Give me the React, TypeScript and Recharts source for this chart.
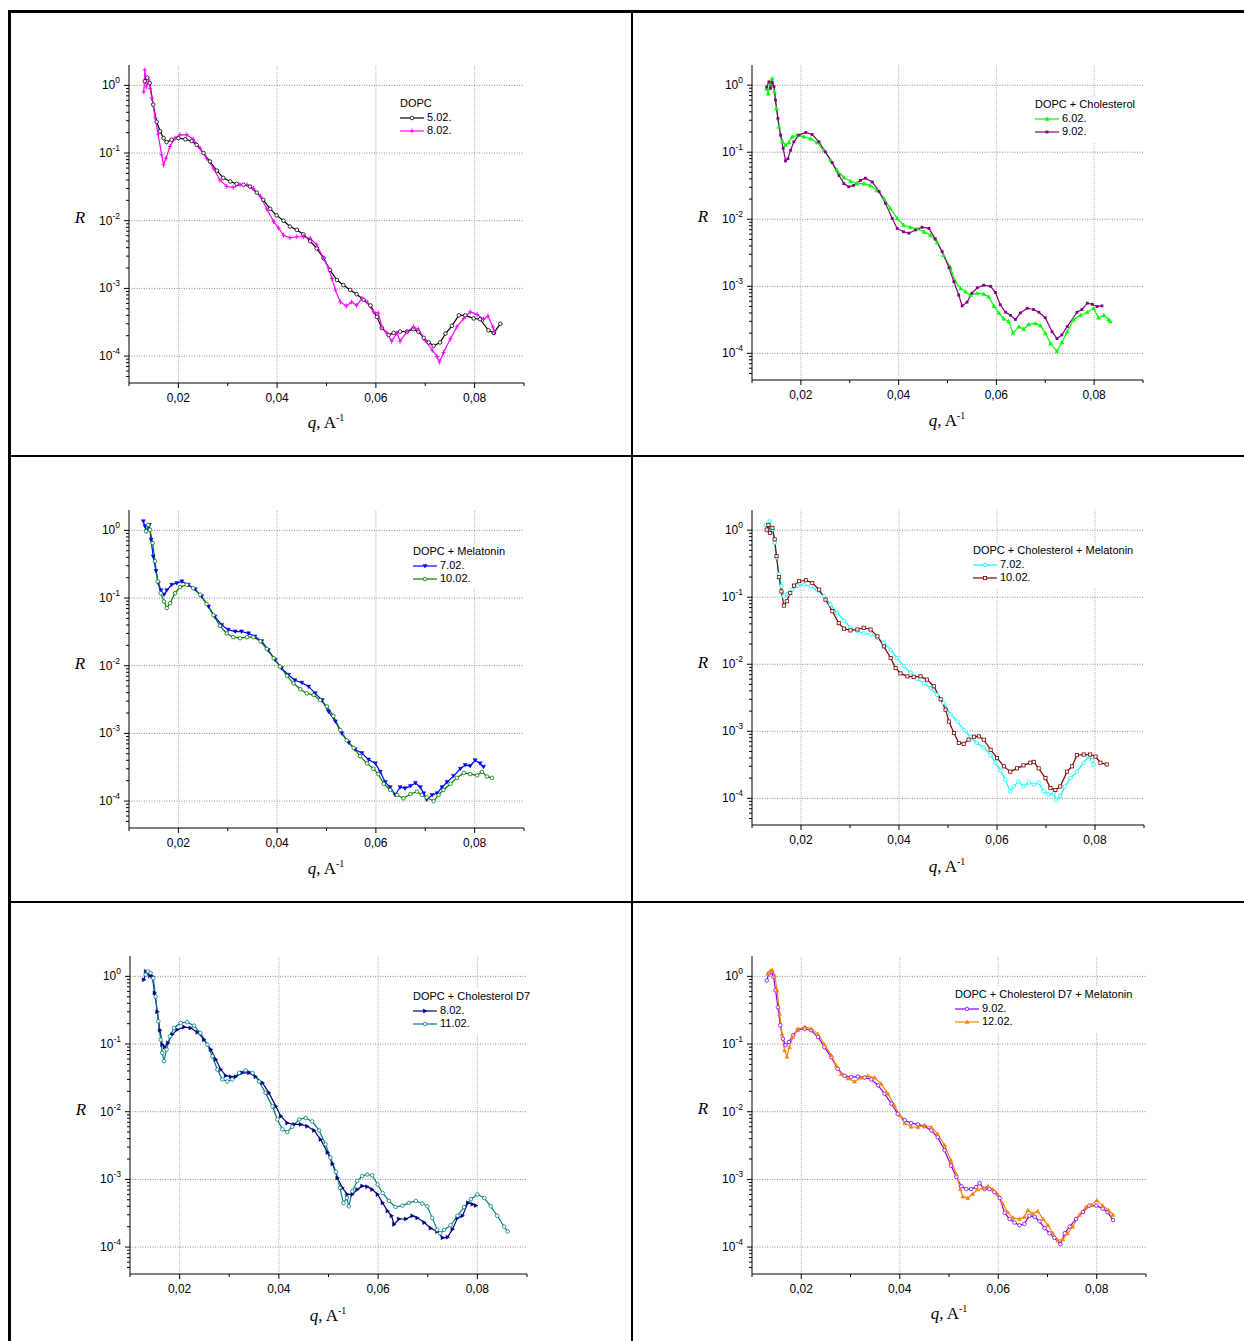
import React from "react"
import { Line, LineChart, ReferenceLine, XAxis, YAxis } from "recharts"

// q (1/A) vs reflectivity R
type Pair = [number, number]

const dopc502: Pair[] = [
  [0.0132, 1.15], [0.0137, 1.3], [0.0142, 1.08], [0.0149, 0.52], [0.0156, 0.29], [0.0163, 0.21], [0.017, 0.166],
  [0.0176, 0.145], [0.0186, 0.157], [0.02, 0.166], [0.0214, 0.16], [0.0227, 0.15], [0.0237, 0.132], [0.0251, 0.1],
  [0.0264, 0.075], [0.0278, 0.055], [0.0291, 0.043], [0.0305, 0.038], [0.0318, 0.035], [0.0332, 0.034], [0.0345, 0.032],
  [0.0359, 0.026], [0.0372, 0.0204], [0.0386, 0.015], [0.0399, 0.012], [0.0413, 0.01], [0.0426, 0.0082], [0.044, 0.0073],
  [0.0453, 0.0063], [0.0467, 0.005], [0.048, 0.0039], [0.0494, 0.0028], [0.0507, 0.00187], [0.0521, 0.00133],
  [0.0534, 0.00112], [0.0548, 0.00095], [0.0561, 0.00082], [0.0575, 0.00068], [0.0589, 0.00056], [0.0602, 0.00038],
  [0.0612, 0.00026], [0.0626, 0.000204], [0.0636, 0.00022], [0.0649, 0.00023], [0.0663, 0.00023], [0.0676, 0.00025],
  [0.0686, 0.00023], [0.0697, 0.000186], [0.0707, 0.000159], [0.0717, 0.000142], [0.073, 0.000159], [0.0741, 0.000215],
  [0.0754, 0.00028], [0.0768, 0.0004], [0.0781, 0.0004], [0.0798, 0.00036], [0.0811, 0.00035], [0.0828, 0.00024],
  [0.0839, 0.00022], [0.0852, 0.0003],
]

const dopc802: Pair[] = [
  [0.013, 0.8], [0.0132, 1.7], [0.0135, 0.95], [0.014, 1.2], [0.0143, 0.9], [0.0146, 0.65], [0.0153, 0.33], [0.0159, 0.19],
  [0.0166, 0.094], [0.017, 0.067], [0.0175, 0.084], [0.0183, 0.125], [0.0193, 0.166], [0.0203, 0.186], [0.0217, 0.186],
  [0.023, 0.16], [0.0244, 0.118], [0.0257, 0.084], [0.0271, 0.06], [0.0284, 0.04], [0.0298, 0.032], [0.0311, 0.031],
  [0.0325, 0.034], [0.0339, 0.034], [0.0352, 0.03], [0.0366, 0.023], [0.0379, 0.015], [0.0393, 0.0097], [0.0403, 0.0078],
  [0.0413, 0.0061], [0.0426, 0.0056], [0.044, 0.0058], [0.0453, 0.0058], [0.0467, 0.0055], [0.048, 0.0044],
  [0.0494, 0.0028], [0.0504, 0.002], [0.0511, 0.0014], [0.0518, 0.00095], [0.0528, 0.00063], [0.054, 0.00055],
  [0.0551, 0.00063], [0.0561, 0.00056], [0.0572, 0.00071], [0.0582, 0.00063], [0.0595, 0.00045], [0.0605, 0.00043],
  [0.0612, 0.00027], [0.0622, 0.00022], [0.0632, 0.000166], [0.0643, 0.00022], [0.0649, 0.000166], [0.0663, 0.00023],
  [0.0676, 0.00027], [0.0686, 0.00025], [0.07, 0.00017], [0.0714, 0.000123], [0.0724, 0.000098], [0.0729, 0.000082],
  [0.0737, 0.000113], [0.0751, 0.00018], [0.0764, 0.00027], [0.0778, 0.00036], [0.0791, 0.00045], [0.0805, 0.00041],
  [0.0818, 0.00035], [0.0827, 0.00039], [0.0837, 0.00027], [0.084, 0.00023],
]

const chol602: Pair[] = [
  [0.013, 0.89], [0.01333, 0.75], [0.01366, 1.06], [0.01414, 1.26], [0.01461, 0.8], [0.015, 0.45], [0.0155, 0.24],
  [0.01618, 0.146], [0.01686, 0.128], [0.01755, 0.14], [0.01823, 0.17], [0.01925, 0.18], [0.0206, 0.17], [0.022, 0.16],
  [0.0233, 0.14], [0.0247, 0.107], [0.0261, 0.076], [0.0274, 0.054], [0.0288, 0.042], [0.0302, 0.037], [0.0315, 0.034],
  [0.0329, 0.034], [0.0342, 0.032], [0.0356, 0.027], [0.037, 0.0204], [0.0383, 0.0145], [0.0397, 0.0103], [0.041, 0.0082],
  [0.0424, 0.0076], [0.0438, 0.0072], [0.0452, 0.0065], [0.0465, 0.0058], [0.0479, 0.0045], [0.0492, 0.0029],
  [0.0506, 0.0019], [0.0516, 0.00117], [0.0527, 0.00093], [0.0537, 0.00083], [0.0547, 0.00074], [0.0561, 0.00079],
  [0.0574, 0.00077], [0.0584, 0.0007], [0.0595, 0.00051], [0.0605, 0.0004], [0.0615, 0.00033], [0.0625, 0.0003],
  [0.0634, 0.0002], [0.0646, 0.00025], [0.0656, 0.00023], [0.0666, 0.00027], [0.068, 0.00028], [0.069, 0.00026],
  [0.07, 0.0002], [0.0711, 0.00014], [0.0724, 0.000108], [0.0734, 0.000146], [0.0745, 0.00021], [0.0758, 0.00032],
  [0.0772, 0.00037], [0.0786, 0.00041], [0.0799, 0.00047], [0.0809, 0.00034], [0.082, 0.00037], [0.083, 0.00032],
  [0.0833, 0.0003],
]

const chol902: Pair[] = [
  [0.013, 0.94], [0.01346, 1.12], [0.0138, 0.9], [0.01414, 1.1], [0.0145, 0.95], [0.0148, 0.6], [0.0153, 0.32],
  [0.01584, 0.18], [0.01639, 0.114], [0.01686, 0.074], [0.01734, 0.08], [0.01789, 0.107], [0.01857, 0.143], [0.0196, 0.18],
  [0.021, 0.197], [0.0223, 0.184], [0.0237, 0.143], [0.025, 0.101], [0.0264, 0.07], [0.0278, 0.045], [0.0288, 0.034],
  [0.0298, 0.0305], [0.0308, 0.032], [0.0322, 0.038], [0.0332, 0.041], [0.0346, 0.036], [0.036, 0.026], [0.0373, 0.0173],
  [0.0387, 0.0103], [0.0397, 0.0073], [0.041, 0.0065], [0.0421, 0.0062], [0.0434, 0.0069], [0.0448, 0.0076],
  [0.0462, 0.0073], [0.0475, 0.0051], [0.0489, 0.0033], [0.0503, 0.0019], [0.0513, 0.00117], [0.0523, 0.00074],
  [0.053, 0.00051], [0.054, 0.00058], [0.055, 0.00079], [0.0561, 0.00095], [0.0574, 0.00104], [0.0588, 0.001],
  [0.0598, 0.00081], [0.0608, 0.00053], [0.0619, 0.00041], [0.0629, 0.00037], [0.0639, 0.00032], [0.0649, 0.0004],
  [0.0663, 0.00047], [0.0676, 0.00045], [0.0687, 0.00041], [0.07, 0.00034], [0.0714, 0.00021], [0.0724, 0.000166],
  [0.0734, 0.000188], [0.0745, 0.00025], [0.0765, 0.00041], [0.0775, 0.00045], [0.0786, 0.00056], [0.0796, 0.00054],
  [0.0806, 0.0005], [0.0816, 0.00051],
]

const mel702: Pair[] = [
  [0.0129, 1.36], [0.01324, 1.15], [0.01358, 0.97], [0.01412, 1.2], [0.01446, 0.73], [0.0149, 0.41], [0.01547, 0.25],
  [0.01595, 0.166], [0.01649, 0.13], [0.0171, 0.112], [0.01764, 0.13], [0.01865, 0.157], [0.01966, 0.166], [0.0207, 0.176],
  [0.022, 0.157], [0.0234, 0.135], [0.0247, 0.106], [0.0261, 0.075], [0.0274, 0.053], [0.0288, 0.04], [0.0301, 0.034],
  [0.0315, 0.032], [0.0328, 0.032], [0.0342, 0.03], [0.0355, 0.027], [0.0369, 0.023], [0.0382, 0.017], [0.0396, 0.0122],
  [0.0409, 0.0092], [0.0423, 0.0073], [0.0436, 0.0061], [0.045, 0.0056], [0.0464, 0.0049], [0.0477, 0.0039],
  [0.0491, 0.0031], [0.0504, 0.0021], [0.0518, 0.0015], [0.0531, 0.001], [0.0545, 0.00073], [0.0558, 0.00058],
  [0.0572, 0.00051], [0.0585, 0.00041], [0.0599, 0.00036], [0.0609, 0.00027], [0.0619, 0.00019], [0.0629, 0.00016],
  [0.0639, 0.000123], [0.0649, 0.00016], [0.0659, 0.000154], [0.067, 0.000166], [0.068, 0.000185], [0.069, 0.00016],
  [0.0697, 0.00013], [0.0703, 0.000105], [0.0714, 0.000123], [0.0724, 0.00013], [0.0734, 0.00016], [0.0744, 0.00019],
  [0.0757, 0.000234], [0.0771, 0.0003], [0.0781, 0.00034], [0.0791, 0.00033], [0.0801, 0.0004], [0.0811, 0.00036],
  [0.0818, 0.00032],
]

const mel1002: Pair[] = [
  [0.01345, 0.97], [0.0139, 1.2], [0.01426, 1.02], [0.0148, 0.65], [0.01527, 0.35], [0.01581, 0.176], [0.01642, 0.118],
  [0.0171, 0.089], [0.01764, 0.071], [0.01831, 0.084], [0.01932, 0.118], [0.02034, 0.145], [0.0217, 0.157], [0.023, 0.14],
  [0.0244, 0.112], [0.0257, 0.082], [0.0271, 0.056], [0.0284, 0.039], [0.0298, 0.03], [0.0311, 0.0264], [0.0325, 0.0255],
  [0.0339, 0.0264], [0.0352, 0.0264], [0.0366, 0.023], [0.0379, 0.0177], [0.0393, 0.0129], [0.0406, 0.0097],
  [0.042, 0.0071], [0.0433, 0.0055], [0.0447, 0.0045], [0.046, 0.0039], [0.0474, 0.0037], [0.0487, 0.0031],
  [0.0501, 0.0025], [0.0514, 0.0018], [0.0528, 0.00112], [0.0541, 0.00079], [0.0555, 0.00061], [0.0568, 0.00046],
  [0.0582, 0.00036], [0.0595, 0.0003], [0.0605, 0.00025], [0.0616, 0.00018], [0.0629, 0.000146], [0.0643, 0.000123],
  [0.0656, 0.00011], [0.067, 0.000127], [0.0683, 0.000138], [0.0693, 0.000123], [0.0703, 0.000113], [0.0717, 0.0001],
  [0.0727, 0.000123], [0.0737, 0.000146], [0.0751, 0.00018], [0.0764, 0.00022], [0.0778, 0.00026], [0.0791, 0.00025],
  [0.0805, 0.00024], [0.0815, 0.00027], [0.0825, 0.00023], [0.0835, 0.00022],
]

const cholMel702: Pair[] = [
  [0.0128, 1.2], [0.01327, 0.97], [0.0136, 1.36], [0.01416, 1.02], [0.01463, 0.65], [0.015, 0.39], [0.0155, 0.22],
  [0.016, 0.146], [0.0165, 0.104], [0.0172, 0.11], [0.0182, 0.13], [0.0193, 0.149], [0.0206, 0.154], [0.022, 0.146],
  [0.0233, 0.127], [0.0247, 0.104], [0.026, 0.078], [0.0274, 0.058], [0.0288, 0.045], [0.0301, 0.035], [0.0315, 0.031],
  [0.0328, 0.029], [0.0342, 0.028], [0.0356, 0.025], [0.0369, 0.021], [0.0383, 0.0164], [0.0396, 0.0124], [0.041, 0.0093],
  [0.0424, 0.0075], [0.0437, 0.006], [0.0451, 0.0052], [0.0465, 0.0044], [0.0478, 0.0035], [0.0491, 0.00265],
  [0.0505, 0.0018], [0.0519, 0.0014], [0.0532, 0.00105], [0.0546, 0.00083], [0.0559, 0.00067], [0.0573, 0.00057],
  [0.0587, 0.00044], [0.0597, 0.00034], [0.0607, 0.00026], [0.0617, 0.00019], [0.0627, 0.000127], [0.0634, 0.00015],
  [0.0644, 0.000178], [0.0654, 0.00015], [0.0665, 0.000172], [0.0675, 0.00016], [0.0685, 0.000172], [0.0695, 0.000127],
  [0.0705, 0.000114], [0.0716, 0.00012], [0.0721, 0.000094], [0.0729, 0.000108], [0.0739, 0.00015], [0.075, 0.0002],
  [0.0763, 0.00025], [0.0777, 0.00034], [0.0787, 0.00042], [0.0794, 0.00037], [0.0797, 0.00032],
]

const cholMel1002: Pair[] = [
  [0.013, 1.02], [0.01334, 1.2], [0.01368, 0.91], [0.01416, 1.08], [0.01463, 0.73], [0.015, 0.41], [0.0155, 0.2],
  [0.016, 0.122], [0.0165, 0.075], [0.0171, 0.087], [0.0178, 0.116], [0.0186, 0.149], [0.0196, 0.173], [0.021, 0.179],
  [0.0223, 0.163], [0.0237, 0.13], [0.025, 0.092], [0.0264, 0.062], [0.0277, 0.041], [0.0288, 0.034], [0.0301, 0.032],
  [0.0315, 0.033], [0.0328, 0.035], [0.0342, 0.033], [0.0356, 0.026], [0.0369, 0.0185], [0.0383, 0.0124], [0.0393, 0.0088],
  [0.0403, 0.0073], [0.0417, 0.0066], [0.043, 0.0065], [0.0444, 0.0066], [0.0457, 0.0059], [0.0471, 0.0047],
  [0.0485, 0.003], [0.0495, 0.0021], [0.0502, 0.0014], [0.0512, 0.00094], [0.0522, 0.00067], [0.0532, 0.00065],
  [0.0542, 0.00075], [0.0553, 0.00083], [0.0563, 0.00084], [0.0573, 0.00075], [0.0587, 0.00053], [0.06, 0.0004],
  [0.0614, 0.0003], [0.0627, 0.00025], [0.0641, 0.00028], [0.0654, 0.00031], [0.0668, 0.00034], [0.0675, 0.00035],
  [0.0685, 0.00028], [0.0699, 0.0002], [0.0709, 0.000142], [0.0719, 0.000133], [0.0729, 0.00015], [0.0743, 0.00025],
  [0.0753, 0.0003], [0.0763, 0.00044], [0.0777, 0.00045], [0.079, 0.00045], [0.0801, 0.00042], [0.0811, 0.00034],
  [0.0824, 0.00032],
]

const d7802: Pair[] = [
  [0.0128, 0.89], [0.0132, 1.18], [0.01362, 1.12], [0.01402, 1.02], [0.01449, 1.0], [0.01496, 0.57], [0.0155, 0.3],
  [0.01603, 0.16], [0.0165, 0.098], [0.017, 0.09], [0.01765, 0.104], [0.0185, 0.138], [0.0195, 0.163], [0.0209, 0.178],
  [0.0222, 0.173], [0.0236, 0.15], [0.0249, 0.116], [0.0263, 0.083], [0.0273, 0.059], [0.0283, 0.042], [0.0293, 0.034],
  [0.0303, 0.033], [0.0313, 0.033], [0.0326, 0.0375], [0.034, 0.0375], [0.0353, 0.033], [0.0367, 0.0267], [0.038, 0.019],
  [0.0394, 0.012], [0.0404, 0.0086], [0.0417, 0.0068], [0.0431, 0.0065], [0.0444, 0.0065], [0.0457, 0.0061],
  [0.0471, 0.0053], [0.0484, 0.0039], [0.0498, 0.0025], [0.0508, 0.0017], [0.0518, 0.00105], [0.0528, 0.00075],
  [0.0538, 0.0006], [0.0548, 0.0006], [0.0558, 0.00071], [0.0568, 0.0008], [0.0578, 0.00078], [0.0588, 0.00071],
  [0.0599, 0.0006], [0.0609, 0.00045], [0.0619, 0.00034], [0.0627, 0.00029], [0.0632, 0.000216], [0.0642, 0.00026],
  [0.0656, 0.00026], [0.0669, 0.00029], [0.0679, 0.00027], [0.0693, 0.00023], [0.0706, 0.00019], [0.0719, 0.00017],
  [0.073, 0.000137], [0.074, 0.00014], [0.075, 0.000184], [0.076, 0.00027], [0.077, 0.00029], [0.0781, 0.00045],
  [0.079, 0.00043], [0.0797, 0.00041],
]

const d71102: Pair[] = [
  [0.01315, 1.06], [0.01362, 1.18], [0.01415, 1.12], [0.01469, 0.94], [0.01516, 0.5], [0.0157, 0.217], [0.01617, 0.116],
  [0.0165, 0.074], [0.01684, 0.056], [0.01738, 0.083], [0.01805, 0.13], [0.01886, 0.173], [0.0202, 0.205], [0.0215, 0.21],
  [0.0229, 0.187], [0.0242, 0.146], [0.0256, 0.098], [0.0266, 0.066], [0.0276, 0.042], [0.0286, 0.03], [0.0296, 0.028],
  [0.0306, 0.03], [0.032, 0.0375], [0.0333, 0.041], [0.0347, 0.0375], [0.036, 0.028], [0.0373, 0.019], [0.0387, 0.012],
  [0.0397, 0.0077], [0.0407, 0.0055], [0.0417, 0.005], [0.0427, 0.006], [0.0441, 0.0077], [0.0454, 0.0081],
  [0.0467, 0.0072], [0.0481, 0.0053], [0.0494, 0.0033], [0.0504, 0.0021], [0.0515, 0.0013], [0.0523, 0.00075],
  [0.053, 0.00045], [0.0537, 0.00053], [0.0541, 0.0004], [0.0548, 0.00067], [0.0558, 0.00095], [0.0568, 0.00112],
  [0.0578, 0.00118], [0.0588, 0.00115], [0.0599, 0.00084], [0.0609, 0.00063], [0.0622, 0.00048], [0.0635, 0.00039],
  [0.0649, 0.00041], [0.0662, 0.00045], [0.0676, 0.00048], [0.0689, 0.00044], [0.0699, 0.0004], [0.0709, 0.00027],
  [0.0719, 0.00018], [0.0725, 0.00016], [0.0733, 0.00018], [0.0746, 0.00021], [0.076, 0.00029], [0.0773, 0.00039],
  [0.0787, 0.00051], [0.08, 0.0006], [0.0814, 0.00053], [0.0827, 0.0004], [0.084, 0.00029], [0.0854, 0.0002],
  [0.0861, 0.00017],
]

const d7Mel902: Pair[] = [
  [0.013, 0.87], [0.01344, 1.1], [0.01391, 1.16], [0.01438, 0.98], [0.01479, 0.62], [0.01526, 0.35], [0.01574, 0.19],
  [0.01628, 0.12], [0.01682, 0.096], [0.0175, 0.107], [0.01831, 0.134], [0.01932, 0.163], [0.02068, 0.168], [0.022, 0.16],
  [0.0234, 0.127], [0.0247, 0.09], [0.0261, 0.064], [0.0274, 0.043], [0.0288, 0.034], [0.0301, 0.0325], [0.0315, 0.033],
  [0.0329, 0.032], [0.0342, 0.03], [0.0356, 0.0245], [0.0369, 0.0185], [0.0383, 0.0131], [0.0396, 0.0093],
  [0.041, 0.0075], [0.0423, 0.0068], [0.0437, 0.0065], [0.045, 0.0061], [0.0464, 0.0053], [0.0477, 0.0042],
  [0.0491, 0.0027], [0.0504, 0.0016], [0.0515, 0.00109], [0.0525, 0.00079], [0.0535, 0.00072], [0.0545, 0.00072],
  [0.0555, 0.00077], [0.0562, 0.00088], [0.0572, 0.00072], [0.0582, 0.00072], [0.0592, 0.00065], [0.0603, 0.00053],
  [0.0613, 0.00032], [0.0623, 0.00026], [0.0633, 0.00023], [0.0643, 0.00021], [0.0653, 0.00022], [0.0663, 0.00029],
  [0.0674, 0.00028], [0.0684, 0.00024], [0.0694, 0.00019], [0.0704, 0.00016], [0.0714, 0.000137], [0.0726, 0.00011],
  [0.0735, 0.00016], [0.0745, 0.0002], [0.0758, 0.00026], [0.0772, 0.00033], [0.0785, 0.00041], [0.0799, 0.00041],
  [0.0812, 0.00037], [0.0822, 0.00033], [0.0833, 0.00025],
]

const d7Mel1202: Pair[] = [
  [0.0132, 1.1], [0.0137, 1.2], [0.0141, 1.25], [0.0146, 1.03], [0.0151, 0.62], [0.0156, 0.28], [0.0161, 0.14],
  [0.0166, 0.081], [0.0171, 0.065], [0.0176, 0.09], [0.0183, 0.127], [0.0193, 0.163], [0.0207, 0.18], [0.022, 0.17],
  [0.0234, 0.14], [0.0247, 0.099], [0.0261, 0.068], [0.0271, 0.048], [0.0281, 0.036], [0.0295, 0.031], [0.0308, 0.028],
  [0.0322, 0.032], [0.0335, 0.034], [0.0349, 0.032], [0.0362, 0.026], [0.0376, 0.0185], [0.0389, 0.0124], [0.04, 0.0089],
  [0.041, 0.0068], [0.0423, 0.006], [0.0437, 0.0059], [0.045, 0.0063], [0.0464, 0.0059], [0.0477, 0.0047],
  [0.0491, 0.0032], [0.0504, 0.0019], [0.0515, 0.00119], [0.0523, 0.00072], [0.0528, 0.00056], [0.0538, 0.00053],
  [0.0548, 0.00061], [0.0558, 0.00071], [0.0569, 0.00075], [0.0579, 0.00079], [0.0589, 0.00071], [0.0599, 0.0006],
  [0.0609, 0.00044], [0.0619, 0.00033], [0.063, 0.00027], [0.0643, 0.00026], [0.0653, 0.00028], [0.066, 0.00035],
  [0.067, 0.00031], [0.068, 0.00034], [0.0691, 0.00026], [0.0701, 0.00021], [0.0711, 0.00016], [0.0721, 0.000126],
  [0.0731, 0.00013], [0.0741, 0.00016], [0.0751, 0.0002], [0.0765, 0.0003], [0.0778, 0.00039], [0.0789, 0.00042],
  [0.08, 0.00049], [0.0812, 0.00041], [0.0824, 0.00035], [0.0833, 0.0003],
]

const qTicks = [0.01, 0.02, 0.03, 0.04, 0.05, 0.06, 0.07, 0.08, 0.09]
const qLabelled = [0.02, 0.04, 0.06, 0.08]
const rDecades = [1e-4, 1e-3, 1e-2, 1e-1, 1]
const rMinor = [
  5e-5, 6e-5, 7e-5, 8e-5, 9e-5,
  2e-4, 3e-4, 4e-4, 5e-4, 6e-4, 7e-4, 8e-4, 9e-4,
  2e-3, 3e-3, 4e-3, 5e-3, 6e-3, 7e-3, 8e-3, 9e-3,
  2e-2, 3e-2, 4e-2, 5e-2, 6e-2, 7e-2, 8e-2, 9e-2,
  0.2, 0.3, 0.4, 0.5, 0.6, 0.7, 0.8, 0.9,
]
const rTicks = [...rMinor, ...rDecades].sort((a, b) => a - b)

const SANS = '"Liberation Sans", Arial, sans-serif'
const SERIF = '"Liberation Serif", "Times New Roman", serif'

type Shape = "circle" | "plus" | "triUp" | "triDown" | "triRight" | "square" | "dot"

function Marker({ cx, cy, shape, color }: { cx: number; cy: number; shape: Shape; color: string }) {
  const s = 2
  switch (shape) {
    case "circle":
      return <circle cx={cx} cy={cy} r={1.8} fill="#fff" stroke={color} strokeWidth={0.8} />
    case "plus":
      return <path d={`M${cx - s},${cy}H${cx + s}M${cx},${cy - s - 0.5}V${cy + s + 0.5}`} stroke={color} strokeWidth={1} />
    case "triUp":
      return <path d={`M${cx},${cy - s}L${cx + s},${cy + s * 0.8}L${cx - s},${cy + s * 0.8}Z`} fill={color} stroke={color} strokeWidth={0.5} />
    case "triDown":
      return <path d={`M${cx},${cy + s}L${cx + s},${cy - s * 0.8}L${cx - s},${cy - s * 0.8}Z`} fill={color} stroke={color} strokeWidth={0.5} />
    case "triRight":
      return <path d={`M${cx + s},${cy}L${cx - s * 0.8},${cy - s}L${cx - s * 0.8},${cy + s}Z`} fill={color} stroke={color} strokeWidth={0.5} />
    case "square":
      return <rect x={cx - 1.6} y={cy - 1.6} width={3.2} height={3.2} fill="#fff" stroke={color} strokeWidth={0.8} />
    default:
      return <rect x={cx - 1.4} y={cy - 1.4} width={2.8} height={2.8} fill={color} />
  }
}

interface Series {
  name: string
  color: string
  shape: Shape
  data: Pair[]
}

interface PanelCfg {
  title: string
  plot: [number, number, number, number] // left, top, width, height (page px)
  legend: [number, number]
  rLabel: [number, number]
  qLabel: [number, number]
  series: Series[]
}

const panels: PanelCfg[] = [
  {
    title: "DOPC", plot: [129, 65, 395, 318], legend: [400, 97], rLabel: [80, 218], qLabel: [326, 422],
    series: [
      { name: "5.02.", color: "#000000", shape: "circle", data: dopc502 },
      { name: "8.02.", color: "#ff00ff", shape: "plus", data: dopc802 },
    ],
  },
  {
    title: "DOPC + Cholesterol", plot: [752, 65, 391, 315], legend: [1035, 98], rLabel: [703, 217], qLabel: [947, 420],
    series: [
      { name: "6.02.", color: "#00ff00", shape: "triUp", data: chol602 },
      { name: "9.02.", color: "#800080", shape: "dot", data: chol902 },
    ],
  },
  {
    title: "DOPC + Melatonin", plot: [129, 510, 395, 318], legend: [413, 545], rLabel: [80, 664], qLabel: [326, 868],
    series: [
      { name: "7.02.", color: "#0000ff", shape: "triDown", data: mel702 },
      { name: "10.02.", color: "#008000", shape: "circle", data: mel1002 },
    ],
  },
  {
    title: "DOPC + Cholesterol + Melatonin", plot: [752, 510, 392, 315], legend: [973, 544], rLabel: [703, 663], qLabel: [947, 866],
    series: [
      { name: "7.02.", color: "#00ffff", shape: "circle", data: cholMel702 },
      { name: "10.02.", color: "#800000", shape: "square", data: cholMel1002 },
    ],
  },
  {
    title: "DOPC + Cholesterol D7", plot: [130, 956, 397, 318], legend: [413, 990], rLabel: [81, 1110], qLabel: [328, 1315],
    series: [
      { name: "8.02.", color: "#000080", shape: "triRight", data: d7802 },
      { name: "11.02.", color: "#008080", shape: "circle", data: d71102 },
    ],
  },
  {
    title: "DOPC + Cholesterol D7 + Melatonin", plot: [752, 956, 394, 318], legend: [955, 988], rLabel: [703, 1109], qLabel: [949, 1313],
    series: [
      { name: "9.02.", color: "#8000ff", shape: "circle", data: d7Mel902 },
      { name: "12.02.", color: "#ff8000", shape: "triUp", data: d7Mel1202 },
    ],
  },
]

function RTick(props: any) {
  const { x, y, payload } = props
  const v: number = payload.value
  const exp = Math.round(Math.log10(v))
  const major = Math.abs(Math.log10(v) - exp) < 1e-6
  return (
    <g>
      <line x1={x - (major ? 5 : 3)} y1={y} x2={x} y2={y} stroke="#000" strokeWidth={1} />
      {major && (
        <text x={x - 9} y={y + 4} textAnchor="end" fontFamily={SANS} fontSize={12} fill="#000">
          <tspan>10</tspan>
          <tspan dy={-6} fontSize={8.5}>{exp}</tspan>
        </text>
      )}
    </g>
  )
}

function QTick(props: any) {
  const { x, y, payload } = props
  const v: number = payload.value
  const labelled = qLabelled.some((l) => Math.abs(l - v) < 1e-9)
  return (
    <g>
      <line x1={x} y1={y} x2={x} y2={y + (labelled ? 5 : 3)} stroke="#000" strokeWidth={1} />
      {labelled && (
        <text x={x} y={y + 19} textAnchor="middle" fontFamily={SANS} fontSize={12} fill="#000">
          {v.toFixed(2).replace(".", ",")}
        </text>
      )}
    </g>
  )
}

const YW = 60

function Panel({ cfg }: { cfg: PanelCfg }) {
  const [pl, pt, pw, ph] = cfg.plot
  const width = YW + pw + 10
  const height = 10 + ph + 30
  return (
    <>
      <div style={{ position: "absolute", left: pl - YW, top: pt - 10 }}>
        <LineChart width={width} height={height} margin={{ top: 10, right: 10, bottom: 0, left: 0 }}>
          <XAxis
            type="number"
            dataKey="q"
            domain={[0.01, 0.09]}
            ticks={qTicks}
            interval={0}
            allowDataOverflow
            height={30}
            tickSize={0}
            tickMargin={0}
            tickLine={false}
            axisLine={{ stroke: "#000", strokeWidth: 1 }}
            tick={<QTick />}
          />
          <YAxis
            type="number"
            dataKey="r"
            scale="log"
            domain={[4e-5, 2]}
            ticks={rTicks}
            interval={0}
            allowDataOverflow
            width={YW}
            tickSize={0}
            tickMargin={0}
            tickLine={false}
            axisLine={{ stroke: "#000", strokeWidth: 1 }}
            tick={<RTick />}
          />
          {qLabelled.map((q) => (
            <ReferenceLine key={`vx${q}`} x={q} stroke="#b5b5b5" strokeWidth={1} strokeDasharray="1 1" />
          ))}
          {rDecades.map((r) => (
            <ReferenceLine key={`hy${r}`} y={r} stroke="#8a8a8a" strokeWidth={1} strokeDasharray="1 1.5" />
          ))}
          {cfg.series.map((s) => (
            <Line
              key={s.name}
              data={s.data.map(([q, r]) => ({ q, r }))}
              dataKey="r"
              type="linear"
              stroke={s.color}
              strokeWidth={1.2}
              isAnimationActive={false}
              activeDot={false}
              dot={(p: any) => <Marker key={`m${p.index}`} cx={p.cx} cy={p.cy} shape={s.shape} color={s.color} />}
            />
          ))}
        </LineChart>
      </div>
      <div
        style={{
          position: "absolute",
          left: cfg.legend[0] - 2,
          top: cfg.legend[1] - 1,
          padding: "1px 3px 3px 2px",
          background: "#fff",
          fontFamily: SANS,
          fontSize: 11,
          lineHeight: "13.5px",
          color: "#000",
          whiteSpace: "nowrap",
        }}
      >
        <div>{cfg.title}</div>
        {cfg.series.map((s) => (
          <div key={s.name} style={{ display: "flex", alignItems: "center", height: 13.5 }}>
            <svg width={25} height={13.5} style={{ display: "block" }}>
              <line x1={0} y1={7} x2={24} y2={7} stroke={s.color} strokeWidth={1.2} />
              <Marker cx={12} cy={7} shape={s.shape} color={s.color} />
            </svg>
            <span style={{ marginLeft: 2 }}>{s.name}</span>
          </div>
        ))}
      </div>
      <div
        style={{
          position: "absolute",
          left: cfg.rLabel[0],
          top: cfg.rLabel[1],
          transform: "translate(-50%, -50%)",
          fontFamily: SERIF,
          fontStyle: "italic",
          fontSize: 17,
        }}
      >
        R
      </div>
      <div
        style={{
          position: "absolute",
          left: cfg.qLabel[0],
          top: cfg.qLabel[1],
          transform: "translate(-50%, -50%)",
          fontFamily: SERIF,
          fontSize: 17,
          whiteSpace: "nowrap",
        }}
      >
        <i>q</i>, A<sup style={{ fontSize: 10, verticalAlign: "7px" }}>-1</sup>
      </div>
    </>
  )
}

export default function App() {
  const line = "#000"
  return (
    <div style={{ position: "absolute", left: 0, top: 0, width: 1244, height: 1341, overflow: "hidden", background: "#fff" }}>
      {panels.map((p) => (
        <Panel key={p.title} cfg={p} />
      ))}
      {/* table borders */}
      <div style={{ position: "absolute", left: 8, top: 10, width: 1240, height: 3, background: line }} />
      <div style={{ position: "absolute", left: 8, top: 10, width: 3, height: 1340, background: line }} />
      <div style={{ position: "absolute", left: 631, top: 10, width: 2, height: 1340, background: line }} />
      <div style={{ position: "absolute", left: 8, top: 455, width: 1240, height: 2, background: line }} />
      <div style={{ position: "absolute", left: 8, top: 901, width: 1240, height: 2, background: line }} />
    </div>
  )
}
